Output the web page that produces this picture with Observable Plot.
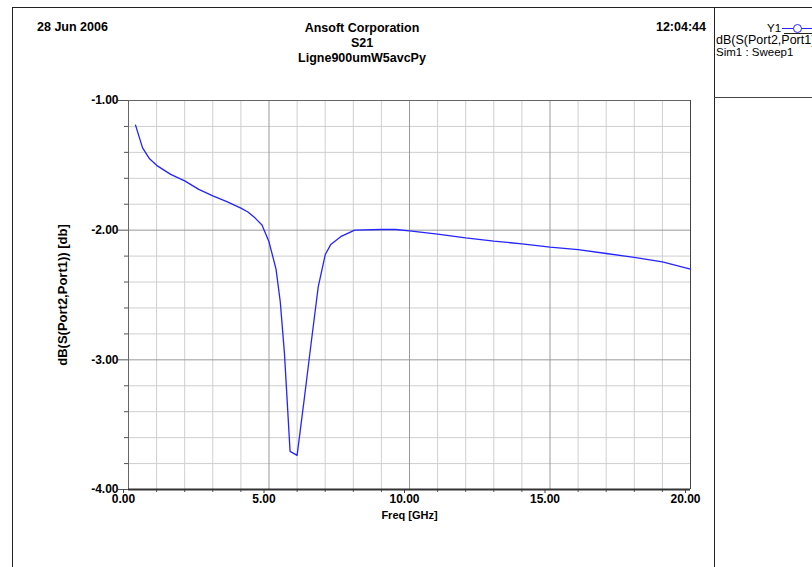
<!DOCTYPE html>
<html>
<head>
<meta charset="utf-8">
<script src="https://cdn.jsdelivr.net/npm/d3@7"></script>
<script src="https://cdn.jsdelivr.net/npm/@observablehq/plot@0.6"></script>
<style>
  html, body { margin: 0; padding: 0; background: #fff; }
  #wrap { position: relative; width: 812px; height: 567px; overflow: hidden; font-family: "Liberation Sans", Arial, sans-serif; font-size: 11px; color: #000; }
  #wrap svg { position: absolute; left: 0; top: 0; }
  .t { position: absolute; white-space: nowrap; line-height: 14px; }
  .b { font-weight: bold; font-size: 12.5px; }
  .lg { font-size: 11.5px; }
  .lg2 { font-size: 12.5px; }
  .line { position: absolute; background: #222; }
</style>
</head>
<body>
<div id="wrap"></div>
<script>
// ---- data ----
const freq = [0.25, 0.5, 0.75, 1.0, 1.5, 2.0, 2.5, 3.0, 3.5, 4.0, 4.25, 4.5, 4.75, 5.0, 5.25, 5.4, 5.55, 5.75, 6.0, 6.25, 6.5, 6.75, 7.0, 7.2, 7.55, 8.05, 9.0, 9.5, 10.0, 11.0, 12.0, 13.0, 14.0, 15.0, 16.0, 17.0, 18.0, 19.0, 20.0];
const s21  = [-1.19, -1.365, -1.45, -1.50, -1.57, -1.62, -1.685, -1.735, -1.78, -1.83, -1.86, -1.905, -1.96, -2.09, -2.30, -2.55, -2.95, -3.706, -3.737, -3.31, -2.87, -2.44, -2.19, -2.11, -2.05, -2.0, -1.995, -1.995, -2.005, -2.03, -2.06, -2.085, -2.105, -2.13, -2.15, -2.18, -2.21, -2.245, -2.30];
const xMajorTicks = [0, 5, 10, 15, 20];
const xMinorTicks = [1, 2, 3, 4, 6, 7, 8, 9, 11, 12, 13, 14, 16, 17, 18, 19];
const yMajorTicks = [-1, -2, -3, -4];
const yMinorTicks = [-1.2, -1.4, -1.6, -1.8, -2.2, -2.4, -2.6, -2.8, -3.2, -3.4, -3.6, -3.8];
const xLabel = "Freq [GHz]";
const yLabel = "dB(S(Port2,Port1)) [db]";
const headerLeft = "28 Jun 2006";
const headerRight = "12:04:44";
const titleLines = ["Ansoft Corporation", "S21", "Ligne900umW5avcPy"];
const legendLines = ["Y1", "dB(S(Port2,Port1))", "Sim1 : Sweep1"];

const data = freq.map((f, i) => ({f, v: s21[i]}));

const chart = Plot.plot({
  width: 812,
  height: 567,
  marginLeft: 128,
  marginRight: 122,
  marginTop: 100,
  marginBottom: 78,
  x: {domain: [0, 20]},
  y: {domain: [-4, -1]},
  style: {fontFamily: "'Liberation Sans', Arial, sans-serif", fontSize: "12px", color: "#000", background: "transparent", overflow: "visible"},
  marks: [
    Plot.ruleX(xMinorTicks, {stroke: "#cfcfcf", strokeWidth: 1}),
    Plot.ruleY(yMinorTicks, {stroke: "#cfcfcf", strokeWidth: 1}),
    Plot.ruleX([5, 10, 15], {stroke: "#9a9a9a", strokeWidth: 1}),
    Plot.ruleY([-2, -3], {stroke: "#9a9a9a", strokeWidth: 1}),
    Plot.ruleX([0], {stroke: "#666", strokeWidth: 1}),
    Plot.ruleX([20], {stroke: "#444", strokeWidth: 1}),
    Plot.ruleY([-1], {stroke: "#666", strokeWidth: 1}),
    Plot.axisY({ticks: yMajorTicks, tickSize: 10, tickPadding: 0, tickFormat: d => d.toFixed(2), fontWeight: "bold", fontSize: 12, stroke: "#555", label: null}),
    Plot.axisY({ticks: yMinorTicks, tickSize: 4, tickFormat: () => "", stroke: "#555", label: null}),
    Plot.axisX({ticks: xMajorTicks, tickSize: 4, tickPadding: 1, dx: -5, tickFormat: d => d.toFixed(2), fontWeight: "bold", fontSize: 12, stroke: "#444", label: null}),
    Plot.axisX({ticks: xMinorTicks, tickSize: 3, tickFormat: () => "", stroke: "#555", label: null}),
    Plot.line(data, {x: "f", y: "v", stroke: "#2424ff", strokeWidth: 1.3}),
    Plot.ruleY([-4], {stroke: "#333", strokeWidth: 2}),
    Plot.text([yLabel], {frameAnchor: "left", textAnchor: "middle", dx: -66, rotate: -90, fontWeight: "bold", fontSize: 13}),
    Plot.text([xLabel], {frameAnchor: "bottom", dy: 29, fontWeight: "bold", fontSize: 11})
  ]
});

const wrap = document.getElementById("wrap");
wrap.appendChild(chart);

function addText(txt, left, top, cls, align) {
  const d = document.createElement("div");
  d.className = "t " + (cls || "");
  d.textContent = txt;
  d.style.top = top + "px";
  if (align === "center") { d.style.left = (left - 200) + "px"; d.style.width = "400px"; d.style.textAlign = "center"; }
  else if (align === "right") { d.style.left = (left - 200) + "px"; d.style.width = "200px"; d.style.textAlign = "right"; }
  else d.style.left = left + "px";
  wrap.appendChild(d);
}
function addLine(left, top, w, h, color) {
  const d = document.createElement("div");
  d.className = "line";
  d.style.left = left + "px"; d.style.top = top + "px";
  d.style.width = w + "px"; d.style.height = h + "px";
  if (color) d.style.background = color;
  wrap.appendChild(d);
}
// frame
addLine(12, 7, 800, 1);
addLine(12, 7, 1, 560);
addLine(714, 7, 1, 560);
addLine(714, 97, 98, 1, "#444");

// headers
addText(headerLeft, 37, 20, "b");
addText(headerRight, 706, 20, "b", "right");
addText(titleLines[0], 362, 21, "b", "center");
addText(titleLines[1], 362, 36, "b", "center");
addText(titleLines[2], 362, 51, "b", "center");

// legend
addText(legendLines[0], 767, 21, "lg");
addText(legendLines[1], 716, 33, "lg2");
addText(legendLines[2], 716, 45, "lg");
addLine(782, 28, 30, 1, "#2424ff");
const c = document.createElement("div");
c.style.cssText = "position:absolute;left:793px;top:24px;width:7px;height:7px;border:1px solid #2424ff;border-radius:50%;background:#fff;";
wrap.appendChild(c);
addLine(784, 33, 28, 1, "#222");
</script>
</body>
</html>
